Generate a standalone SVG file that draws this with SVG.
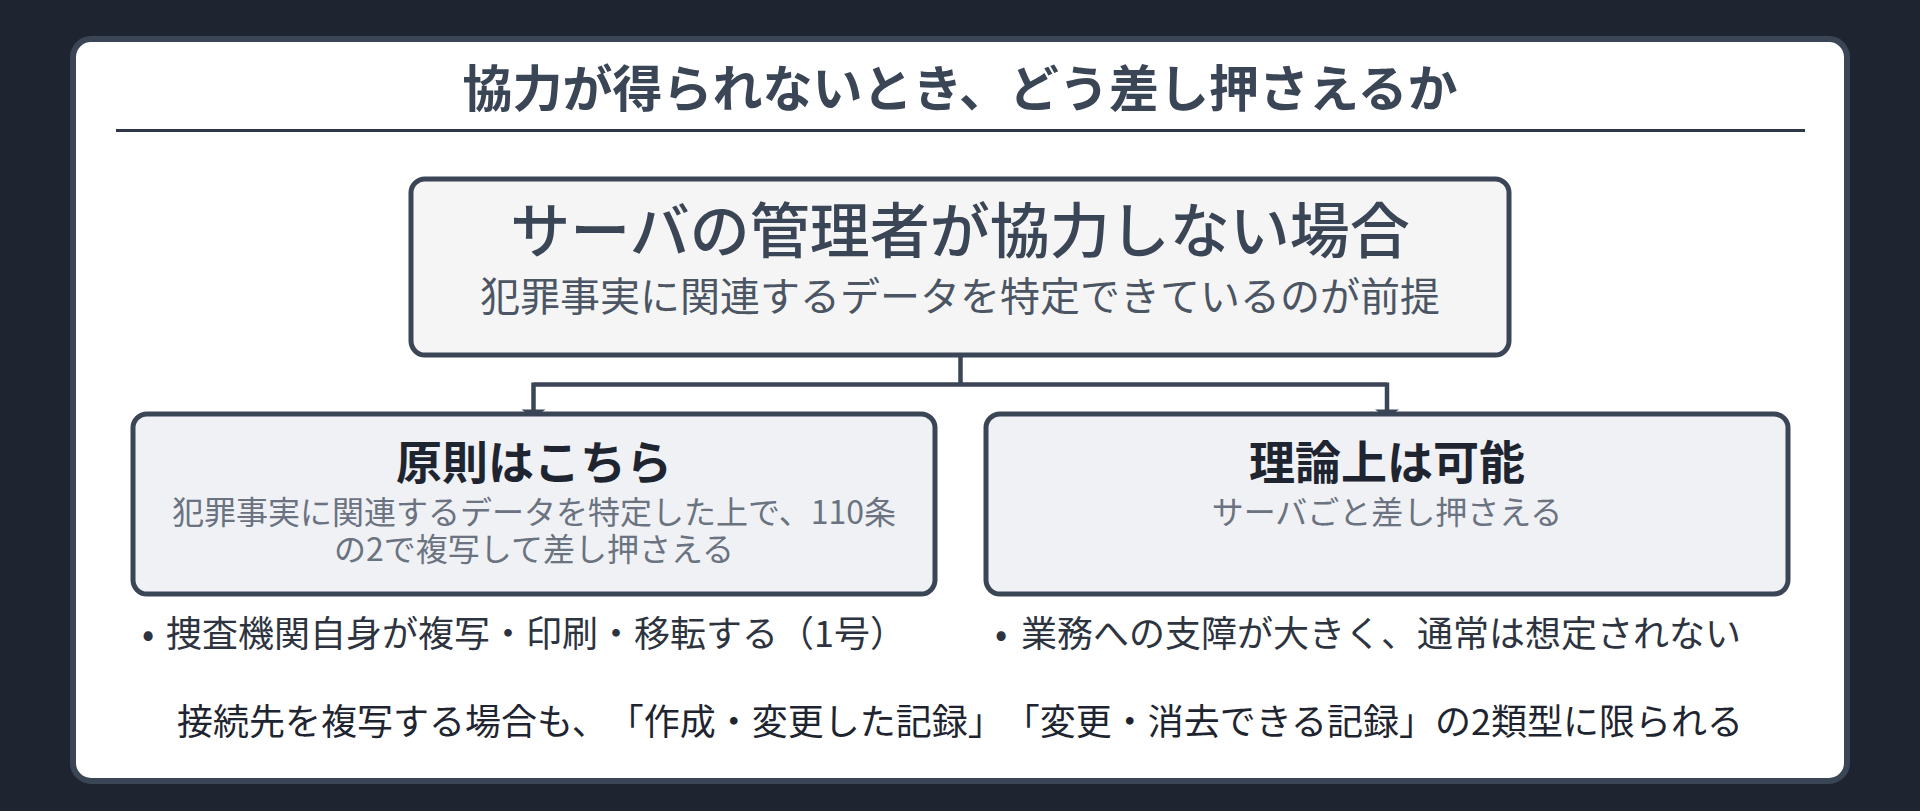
<svg xmlns="http://www.w3.org/2000/svg" width="1920" height="811" viewBox="0 0 1920 811">
  <style>
    text { font-family: "Noto Sans CJK JP", "Noto Sans", sans-serif; text-spacing-trim: space-all; }
    .title { font-size: 50px; font-weight: 700; fill: #3a4556; text-anchor: middle; }
    .node { stroke: #3a4556; stroke-width: 5; }
    .main-head { font-size: 60px; font-weight: 500; fill: #3a4556; text-anchor: middle; }
    .main-sub { font-size: 40px; font-weight: 400; fill: #4b5563; text-anchor: middle; }
    .head { font-size: 46px; font-weight: 700; fill: #1f2530; text-anchor: middle; }
    .desc { font-size: 32px; font-weight: 400; fill: #6b7280; text-anchor: middle; }
    .bullet { font-size: 36px; font-weight: 400; fill: #2d3440; }
    .note { font-size: 36px; font-weight: 400; fill: #1f2530; text-anchor: middle; }
    .conn { stroke: #3a4556; stroke-width: 4.5; fill: none; }
  </style>
  <rect x="0" y="0" width="1920" height="811" fill="#1e2430"/>
  <rect x="73" y="39" width="1774" height="742" rx="18" ry="18" fill="#ffffff" stroke="#3a4556" stroke-width="6"/>

  <g id="title">
    <text class="title" x="960" y="107">協力が得られないとき、どう差し押さえるか</text>
    <line x1="116" y1="130.5" x2="1805" y2="130.5" stroke="#2d3748" stroke-width="3"/>
  </g>

  <g id="connectors">
    <path class="conn" d="M960.5 355 V384.5 M533.5 384.5 H1387 M533.5 382.5 V414 M1387 382.5 V414"/>
    <polygon points="521.5,409.5 545.5,409.5 533.5,418" fill="#3a4556"/>
    <polygon points="1375,409.5 1399,409.5 1387,418" fill="#3a4556"/>
  </g>

  <g id="node-main">
    <rect class="node" x="411" y="179" width="1098" height="176" rx="14" ry="14" fill="#f5f5f5"/>
    <text class="main-head" x="960" y="253">サーバの管理者が協力しない場合</text>
    <text class="main-sub" x="960" y="311">犯罪事実に関連するデータを特定できているのが前提</text>
  </g>

  <g id="node-principle">
    <rect class="node" x="133" y="414" width="802" height="180" rx="14" ry="14" fill="#eff1f5"/>
    <text class="head" x="534" y="479">原則はこちら</text>
    <text class="desc" x="534" y="524">犯罪事実に関連するデータを特定した上で、110条</text>
    <text class="desc" x="534" y="561">の2で複写して差し押さえる</text>
  </g>

  <g id="node-theory">
    <rect class="node" x="986" y="414" width="802" height="180" rx="14" ry="14" fill="#eff1f5"/>
    <text class="head" x="1387" y="479">理論上は可能</text>
    <text class="desc" x="1387" y="524">サーバごと差し押さえる</text>
  </g>

  <g id="bullet-left">
    <text class="bullet" y="647"><tspan x="142">•</tspan><tspan x="166">捜査機関自身が複写・印刷・移転する（1号）</tspan></text>
  </g>

  <g id="bullet-right">
    <text class="bullet" y="647"><tspan x="995">•</tspan><tspan x="1021">業務への支障が大きく、通常は想定されない</tspan></text>
  </g>

  <g id="note">
    <text class="note" x="960" y="735">接続先を複写する場合も、「作成・変更した記録」「変更・消去できる記録」の2類型に限られる</text>
  </g>
</svg>
